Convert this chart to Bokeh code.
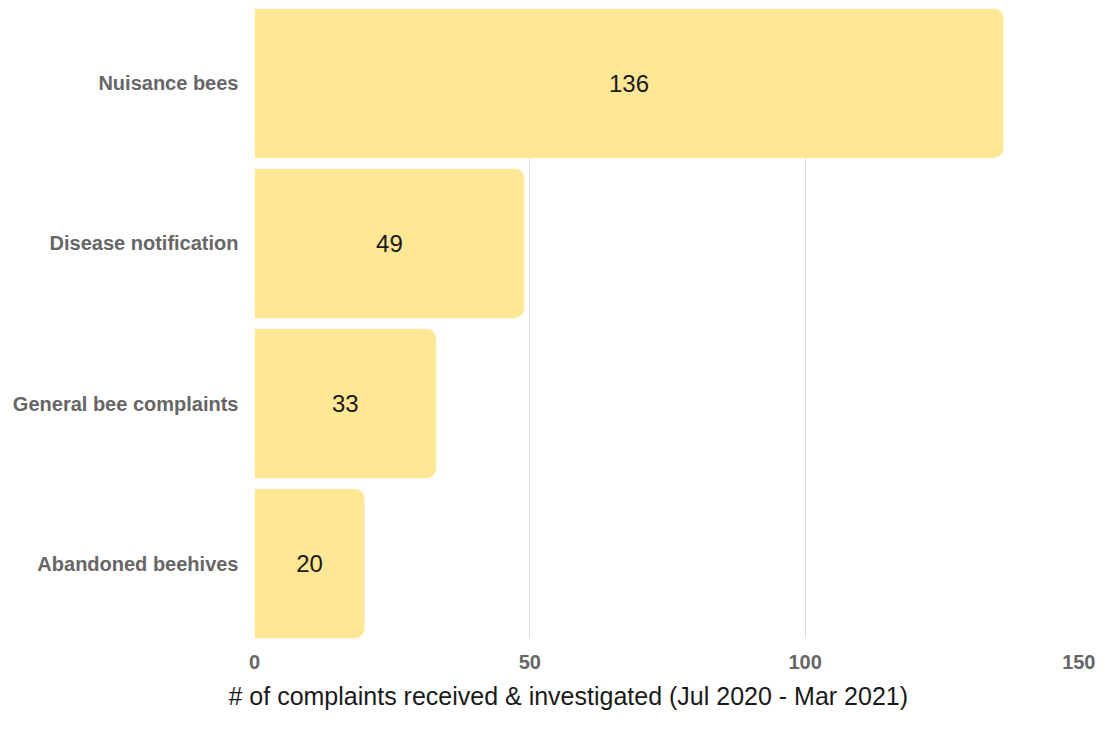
from bokeh.plotting import figure
from bokeh.models import ColumnDataSource, FixedTicker, Range1d, Title
from bokeh.core.properties import value
from bokeh.embed import file_html
from bokeh.resources import INLINE

categories = ["Nuisance bees", "Disease notification", "General bee complaints", "Abandoned beehives"]
counts = [136, 49, 33, 20]
x_ticks = [0, 50, 100, 150]
x_title = "# of complaints received & investigated (Jul 2020 - Mar 2021)"

n = len(categories)
ypos = [n - 1 - i for i in range(n)]
labels = [str(c) for c in counts]
mid = [c / 2 for c in counts]

src = ColumnDataSource(dict(y=ypos, right=counts, mid=mid, label=labels))

bar_h = 0.933
p = figure(width=1095, height=718, output_backend="svg", toolbar_location=None,
           x_range=Range1d(0, 150), y_range=Range1d(-bar_h / 2, n - 1 + bar_h / 2),
           min_border_left=254, min_border_right=15, min_border_top=8, min_border_bottom=80)
p.outline_line_color = None

p.hbar(y="y", left=0, right="right", height=bar_h, source=src,
       fill_color="#FFE796", line_color=None, border_radius=(0, 10, 10, 0))

p.text(x="mid", y="y", text="label", source=src, text_align="center", text_baseline="middle",
       text_font_size="24px", text_color="#1a1a1a", text_font=value("Liberation Sans"))

p.xaxis.ticker = FixedTicker(ticks=x_ticks)
p.xaxis.axis_line_color = None
p.xaxis.major_tick_line_color = None
p.xaxis.minor_tick_line_color = None
p.xaxis.major_label_text_font = "Liberation Sans"
p.xaxis.major_label_text_font_style = "bold"
p.xaxis.major_label_text_font_size = "20px"
p.xaxis.major_label_text_color = "#666666"
p.xaxis.major_label_standoff = 10

title = Title(text=x_title, align="left", offset=-26, standoff=16,
              text_font="Liberation Sans", text_font_style="normal",
              text_font_size="25px", text_color="#1a1a1a")
p.add_layout(title, "below")

p.yaxis.ticker = FixedTicker(ticks=ypos)
p.yaxis.major_label_overrides = {y: c for y, c in zip(ypos, categories)}
p.yaxis.axis_line_color = None
p.yaxis.major_tick_line_color = None
p.yaxis.minor_tick_line_color = None
p.yaxis.major_label_text_font = "Liberation Sans"
p.yaxis.major_label_text_font_style = "bold"
p.yaxis.major_label_text_font_size = "20px"
p.yaxis.major_label_text_color = "#666666"
p.yaxis.major_label_standoff = 10

p.ygrid.grid_line_color = None
p.xgrid.grid_line_color = "#dddddd"
p.xgrid.grid_line_width = 1

open("out.html", "w").write(file_html(p, INLINE))
